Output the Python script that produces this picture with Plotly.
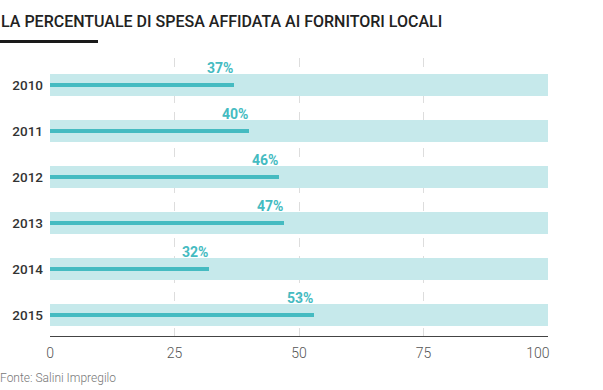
import plotly.graph_objects as go

years = ["2010", "2011", "2012", "2013", "2014", "2015"]
values = [37, 40, 46, 47, 32, 53]
full = [100, 100, 100, 100, 100, 100]
x_ticks = [0, 25, 50, 75, 100]
x_tick_text = ["0", "25", "50", "75", "100" + "&nbsp;" * 6]
title = "LA PERCENTUALE DI SPESA AFFIDATA AI FORNITORI LOCALI"
source = "Fonte: Salini Impregilo"

teal = "#45BBC1"
light = "#C6E9EB"

PL, PR, PT, PB = 50, 548, 58, 336
PW, PH = PR - PL, PB - PT

fig = go.Figure()
fig.add_trace(go.Bar(y=years, x=full, orientation="h", width=0.48,
                     marker=dict(color=light, line=dict(width=0)),
                     hoverinfo="skip", showlegend=False))
fig.add_trace(go.Bar(y=years, x=values, orientation="h", width=0.1,
                     marker=dict(color=teal, line=dict(width=0)),
                     showlegend=False))

annotations = []
for i, v in enumerate(values):
    annotations.append(dict(x=v, y=i, xref="x", yref="y", text=f"<b>{v}%</b>",
                            showarrow=False, xanchor="right", yanchor="middle",
                            yshift=17, xshift=1,
                            font=dict(family="Roboto", size=14, color=teal)))
annotations.append(dict(text=title, x=-PL / PW, y=1 + (PT - 22) / PH,
                        xref="paper", yref="paper", xanchor="left", yanchor="middle",
                        showarrow=False, xshift=-1,
                        font=dict(family="Roboto", size=16, color="#222222", weight=500)))
annotations.append(dict(text=source, x=-PL / PW, y=-(378 - PB) / PH,
                        xref="paper", yref="paper", xanchor="left", yanchor="middle",
                        showarrow=False, xshift=-2,
                        font=dict(family="Roboto", size=12, color="#777777", weight=300)))

fig.add_shape(type="rect", xref="paper", yref="paper",
              x0=-PL / PW, x1=(98 - PL) / PW,
              y0=1 + (PT - 43) / PH, y1=1 + (PT - 40) / PH,
              fillcolor="#1a1a1a", line=dict(width=0))

fig.update_layout(
    width=603, height=390,
    margin=dict(l=PL, r=603 - PR, t=PT, b=390 - PB),
    paper_bgcolor="white", plot_bgcolor="white",
    barmode="overlay", bargap=0,
    font=dict(family="Roboto"),
    annotations=annotations,
    xaxis=dict(range=[0, 100], tickvals=x_ticks, ticktext=x_tick_text,
               showgrid=True, gridcolor="#DDDDDD", griddash="dash", gridwidth=1,
               zeroline=False, showline=True, linecolor="#444444", linewidth=1,
               ticks="", ticklabelstandoff=4,
               tickfont=dict(family="Roboto", size=14, color="#555555", weight=300),
               fixedrange=True),
    yaxis=dict(categoryorder="array", categoryarray=years,
               range=[5.457, -0.587], showgrid=False, zeroline=False,
               ticks="", ticklabelstandoff=6,
               tickfont=dict(family="Roboto", size=13.5, color="#333333", weight=500),
               fixedrange=True),
)

fig.write_html("out.html", config={"displayModeBar": False},
               post_script="document.body.style.margin='0px';")
